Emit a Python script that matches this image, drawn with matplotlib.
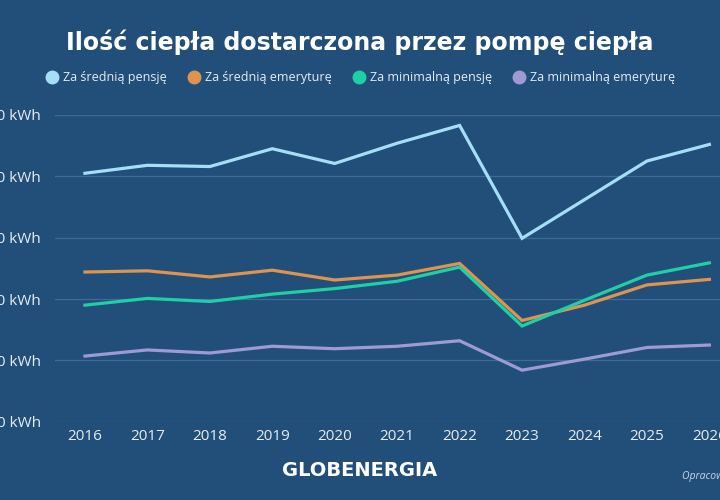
import matplotlib
matplotlib.use("Agg")
import matplotlib.pyplot as plt
from matplotlib.lines import Line2D

# data (kWh)
years = [2016, 2017, 2018, 2019, 2020, 2021, 2022, 2023, 2024, 2025, 2026]
srednia_pensja = [20250, 20900, 20800, 22250, 21050, 22700, 24150, 14950, 18100, 21250, 22600]
srednia_emerytura = [12200, 12300, 11800, 12350, 11550, 11950, 12900, 8250, 9500, 11150, 11600]
minimalna_pensja = [9500, 10050, 9800, 10400, 10850, 11450, 12600, 7800, 9900, 11950, 12950]
minimalna_emerytura = [5350, 5850, 5600, 6150, 5950, 6150, 6600, 4200, 5100, 6050, 6250]

series_names = ["Za średnią pensję", "Za średnią emeryturę", "Za minimalną pensję", "Za minimalną emeryturę"]
yticks = [0, 5000, 10000, 15000, 20000, 25000]
ytick_labels = ["0 kWh", "5 000 kWh", "10 000 kWh", "15 000 kWh", "20 000 kWh", "25 000 kWh"]

bg = "#224f7a"
colors = ["#a6def7", "#dd9450", "#1fcfa6", "#9d9bcf"]
font = "Open Sans"

fig = plt.figure(figsize=(7.2, 5.0), dpi=100, facecolor=bg)
ax = fig.add_axes([55 / 720, 1 - 421.7 / 500, 1 - 55 / 720, (421.7 - 115) / 500])
ax.set_facecolor(bg)

for vals, c in zip([srednia_pensja, srednia_emerytura, minimalna_pensja, minimalna_emerytura], colors):
    ax.plot(years, vals, color=c, lw=2.3, solid_joinstyle="miter", clip_on=False, zorder=3)

ax.set_xlim(2015.52, 2026.17)
ax.set_ylim(0, 25000)
ax.set_xticks(years)
ax.set_xticklabels([str(y) for y in years], fontsize=11, family=font, color="#e6edf3")
ax.set_yticks(yticks)
ax.set_yticklabels(ytick_labels, fontsize=11, family=font, color="#e6edf3")
ax.tick_params(axis="both", length=0)
ax.tick_params(axis="y", pad=10)
ax.tick_params(axis="x", pad=5)
ax.grid(axis="y", color="#3f6c95", lw=0.9)
ax.set_axisbelow(True)
for s in ax.spines.values():
    s.set_visible(False)

fig.text(0.5, 0.915, "Ilość ciepła dostarczona przez pompę ciepła", ha="center", va="center",
         fontsize=17, fontweight="bold", color="white", family="DejaVu Sans")

handles = [Line2D([], [], ls="none", marker="o", ms=9, mfc=c, mec=c) for c in colors]
fig.legend(handles, series_names, loc="center", bbox_to_anchor=(0.5, 1 - 78 / 500), ncol=4,
           frameon=False, handletextpad=0.25, columnspacing=1.6, handlelength=1.2,
           prop={"family": font, "size": 9}, labelcolor="#e6edf3")

fig.text(0.5, 1 - 470 / 500, "GLOBENERGIA", ha="center", va="center", fontsize=14,
         fontweight="bold", color="white", family="DejaVu Sans")
fig.text(682 / 720, 1 - 477 / 500, "Opracowanie własne", ha="left", va="center", fontsize=7.5,
         style="italic", color="#c8d6e4", family=font)

fig.savefig("out.png", dpi=100, facecolor=bg)
